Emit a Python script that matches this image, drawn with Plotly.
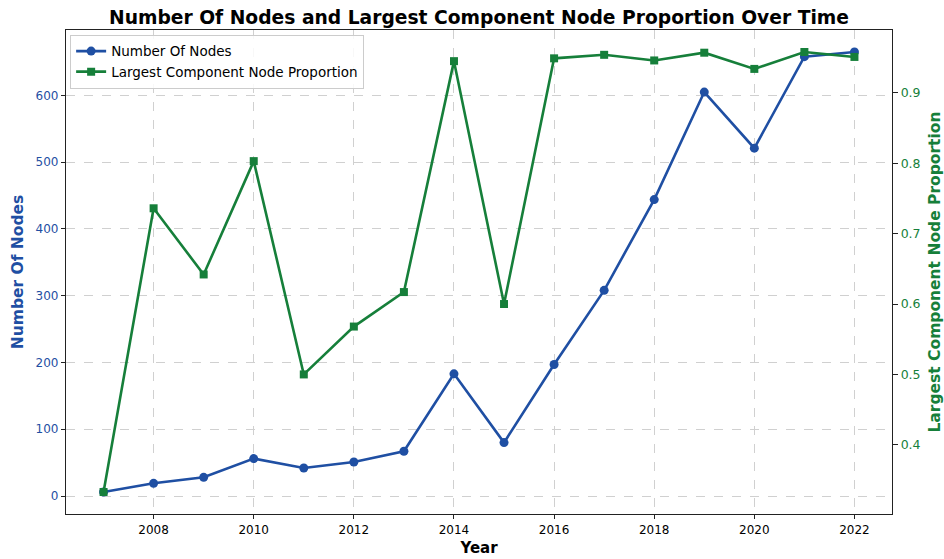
import plotly.graph_objects as go

years = [2007, 2008, 2009, 2010, 2011, 2012, 2013, 2014, 2015, 2016, 2017, 2018, 2019, 2020, 2021, 2022]
num_nodes = [6, 19, 28, 56, 42, 51, 67, 183, 80, 197, 308, 444, 605, 521, 658, 665]
lc_proportion = [0.333, 0.736, 0.642, 0.803, 0.5, 0.568, 0.617, 0.945, 0.6, 0.949, 0.954, 0.946, 0.957, 0.934, 0.958, 0.951]
x_ticks = [2008, 2010, 2012, 2014, 2016, 2018, 2020, 2022]

BLUE = "#1f4fa3"
GREEN = "#167f3a"
FONT = "DejaVu Sans"

fig = go.Figure()
fig.add_trace(go.Scatter(
    x=years, y=num_nodes, name="Number Of Nodes", mode="lines+markers",
    line=dict(color=BLUE, width=2.6), marker=dict(symbol="circle", size=9, color=BLUE),
    yaxis="y"))
fig.add_trace(go.Scatter(
    x=years, y=lc_proportion, name="Largest Component Node Proportion", mode="lines+markers",
    line=dict(color=GREEN, width=2.6), marker=dict(symbol="square", size=8, color=GREEN),
    yaxis="y2"))

xmin, xmax = min(years), max(years)
xpad = (xmax - xmin) * 0.05
n_lo, n_hi = min(num_nodes), max(num_nodes)
npad = (n_hi - n_lo) * 0.05
p_lo, p_hi = min(lc_proportion), max(lc_proportion)
ppad = (p_hi - p_lo) * 0.05

fig.update_layout(
    width=944, height=559,
    margin=dict(l=66, r=52, t=30, b=45, autoexpand=False),
    paper_bgcolor="white", plot_bgcolor="white",
    font=dict(family=FONT, size=12, color="black"),
    title=dict(text="<b>Number Of Nodes and Largest Component Node Proportion Over Time</b>",
               x=0.5, xref="paper", xanchor="center", y=1 - 17 / 559, yanchor="middle",
               font=dict(family=FONT, size=18.7, color="black")),
    showlegend=True,
    legend=dict(x=0.005, y=0.99, xanchor="left", yanchor="top",
                bgcolor="rgba(255,255,255,0.85)", bordercolor="#cccccc", borderwidth=1,
                font=dict(family=FONT, size=13.5, color="black"),
                tracegroupgap=0, itemwidth=30),
    xaxis=dict(
        range=[xmin - xpad, xmax + xpad], tickmode="array", tickvals=x_ticks,
        ticktext=[str(t) for t in x_ticks], automargin=False,
        showline=True, linecolor="#222222", linewidth=1.3, mirror=True,
        ticks="outside", ticklen=4, tickcolor="#222222",
        showgrid=True, gridcolor="#d0d0d0", griddash="dash", gridwidth=1,
        zeroline=False,
        tickfont=dict(family=FONT, size=12, color="black"),
        title=dict(text="<b>Year</b>", font=dict(family=FONT, size=15, color="black"), standoff=6),
    ),
    yaxis=dict(
        range=[n_lo - npad, n_hi + npad], tickmode="array", tickvals=[0, 100, 200, 300, 400, 500, 600],
        automargin=False,
        showline=True, linecolor="#222222", linewidth=1.3, mirror=True,
        ticks="outside", ticklen=4, tickcolor="#222222",
        showgrid=True, gridcolor="#d0d0d0", griddash="dash", gridwidth=1,
        zeroline=False,
        tickfont=dict(family=FONT, size=12, color=BLUE),
        title=dict(text="<b>Number Of Nodes</b>", font=dict(family=FONT, size=15.5, color=BLUE), standoff=8),
    ),
    yaxis2=dict(
        range=[p_lo - ppad, p_hi + ppad], overlaying="y", side="right",
        tickmode="array", tickvals=[0.4, 0.5, 0.6, 0.7, 0.8, 0.9],
        ticktext=["0.4", "0.5", "0.6", "0.7", "0.8", "0.9"], automargin=False,
        showline=True, linecolor="#222222", linewidth=1.3,
        ticks="outside", ticklen=5, tickcolor="#222222",
        showgrid=False, zeroline=False,
        tickfont=dict(family=FONT, size=12.5, color=GREEN),
        title=dict(text="<b>Largest Component Node Proportion</b>", font=dict(family=FONT, size=15.5, color=GREEN), standoff=10),
    ),
)

fig.write_html("out.html", config={"displayModeBar": False},
               post_script="document.body.style.margin='0px';")
